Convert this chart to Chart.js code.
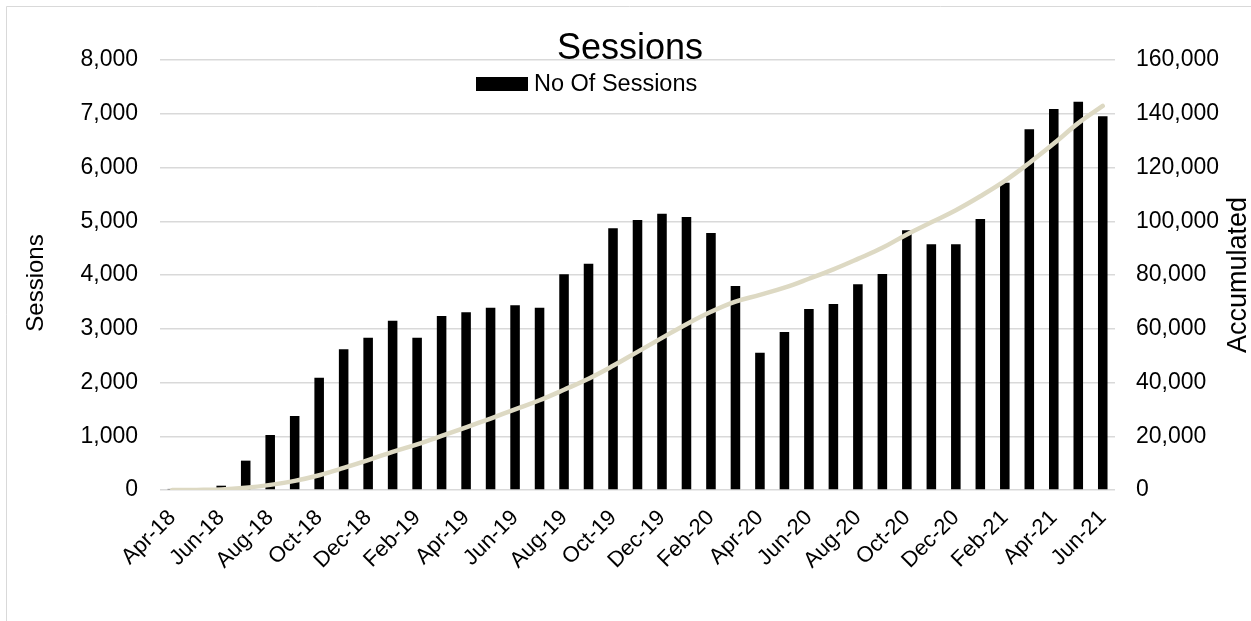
<!DOCTYPE html>
<html>
<head>
<meta charset="utf-8">
<title>Sessions</title>
<script src="https://cdn.jsdelivr.net/npm/chart.js@4.4.1/dist/chart.umd.min.js"></script>
<style>
  html, body { margin: 0; padding: 0; background: #ffffff; }
  #wrap { width: 1251px; height: 621px; }
</style>
</head>
<body>
<div id="wrap"><canvas id="chart" width="1251" height="621"></canvas></div>
<script>
// Monthly categories, April 2018 to June 2021
const months = [
  'Apr-18','May-18','Jun-18','Jul-18','Aug-18','Sep-18','Oct-18','Nov-18','Dec-18',
  'Jan-19','Feb-19','Mar-19','Apr-19','May-19','Jun-19','Jul-19','Aug-19','Sep-19','Oct-19','Nov-19','Dec-19',
  'Jan-20','Feb-20','Mar-20','Apr-20','May-20','Jun-20','Jul-20','Aug-20','Sep-20','Oct-20','Nov-20','Dec-20',
  'Jan-21','Feb-21','Mar-21','Apr-21','May-21','Jun-21'
];

// Sessions per month (left axis)
const sessions = [
  20, 10, 80, 546, 1023, 1377, 2090, 2617, 2834,
  3150, 2834, 3237, 3305, 3392, 3436, 3392, 4012, 4211, 4868, 5023, 5141,
  5079, 4781, 3795, 2555, 2940, 3367, 3460, 3826, 4019, 4831, 4571, 4571,
  5042, 5718, 6710, 7088, 7225, 6952
];

// Running total of sessions (right axis)
const accumulated = [
  20, 40, 150, 800, 1900, 3400, 5500, 8200, 11100,
  14200, 17000, 20100, 23300, 26600, 30000, 33400, 37300, 41400, 46200, 51400, 56600,
  61700, 66300, 70100, 72600, 75300, 78600, 82100, 86000, 90100, 95100, 99600, 104100,
  109300, 115000, 121700, 128900, 136500, 142900
];

const chartTitle = 'Sessions';
const barLabel = 'No Of Sessions';
const lineLabel = 'Accumulated';
const leftAxisTitle = 'Sessions';
const rightAxisTitle = 'Accumulated';

const FONT = '"Liberation Sans", Arial, Helvetica, sans-serif';
const GRID = '#d9d9d9';
const LINE = '#ddd9c3';

const fmt = v => Number(v).toLocaleString('en-US');

// Frame, title, legend and axis titles drawn on the canvas
const decorations = {
  id: 'decorations',
  beforeDraw(chart) {
    const ctx = chart.ctx;
    ctx.save();
    ctx.fillStyle = '#ffffff';
    ctx.fillRect(0, 0, chart.width, chart.height);
    ctx.strokeStyle = GRID;
    ctx.lineWidth = 1;
    ctx.beginPath();
    ctx.moveTo(6.5, chart.height + 5);
    ctx.lineTo(6.5, 6.5);
    ctx.lineTo(chart.width + 5, 6.5);
    ctx.stroke();
    ctx.restore();
  },
  afterDraw(chart) {
    const ctx = chart.ctx;
    const area = chart.chartArea;
    ctx.save();
    ctx.fillStyle = '#000000';

    // chart title
    ctx.font = '36px ' + FONT;
    ctx.textAlign = 'center';
    ctx.textBaseline = 'alphabetic';
    ctx.fillText(chartTitle, 630, 59);

    // legend entry for the bars
    ctx.fillRect(476, 77, 52, 14);
    ctx.font = '23.5px ' + FONT;
    ctx.textAlign = 'left';
    ctx.fillText(barLabel, 534, 91);

    // left axis title
    const midY = (area.top + area.bottom) / 2;
    ctx.save();
    ctx.translate(43, midY + 8);
    ctx.rotate(-Math.PI / 2);
    ctx.font = '24px ' + FONT;
    ctx.textAlign = 'center';
    ctx.fillText(leftAxisTitle, 0, 0);
    ctx.restore();

    // right axis title
    ctx.save();
    ctx.translate(1246, midY);
    ctx.rotate(-Math.PI / 2);
    ctx.font = '27px ' + FONT;
    ctx.textAlign = 'center';
    ctx.fillText(rightAxisTitle, 0, 0);
    ctx.restore();

    ctx.restore();
  }
};

new Chart(document.getElementById('chart'), {
  data: {
    labels: months,
    datasets: [
      {
        type: 'line',
        label: lineLabel,
        data: accumulated,
        yAxisID: 'y1',
        borderColor: LINE,
        backgroundColor: LINE,
        borderWidth: 4.5,
        borderCapStyle: 'round',
        pointRadius: 0,
        tension: 0.4,
        fill: false,
        order: 0
      },
      {
        type: 'bar',
        label: barLabel,
        data: sessions,
        yAxisID: 'y',
        backgroundColor: '#000000',
        borderWidth: 0,
        barPercentage: 0.39,
        categoryPercentage: 1.0,
        order: 1
      }
    ]
  },
  options: {
    responsive: false,
    animation: false,
    layout: { padding: { top: 60, left: 0, right: 0, bottom: 0 } },
    plugins: {
      legend: { display: false },
      title: { display: false },
      tooltip: { enabled: false }
    },
    scales: {
      x: {
        offset: true,
        grid: { display: false, drawTicks: false },
        border: { display: false },
        ticks: {
          autoSkip: false,
          minRotation: 45,
          maxRotation: 45,
          padding: 15,
          color: '#000000',
          font: { family: FONT, size: 22 },
          callback: (v, i) => (i % 2 === 0 ? months[i] : '')
        },
        afterFit: s => { s.height = 131; }
      },
      y: {
        position: 'left',
        min: 0,
        max: 8000,
        grid: { color: GRID, lineWidth: 1.5, drawTicks: false },
        border: { display: false },
        ticks: {
          stepSize: 1000,
          padding: 22,
          color: '#000000',
          font: { family: FONT, size: 23 },
          callback: v => fmt(v)
        },
        afterFit: s => { s.width = 160; }
      },
      y1: {
        position: 'right',
        min: 0,
        max: 160000,
        grid: { display: false, drawTicks: false },
        border: { display: false },
        ticks: {
          stepSize: 20000,
          padding: 21,
          color: '#000000',
          font: { family: FONT, size: 23 },
          callback: v => fmt(v)
        },
        afterFit: s => { s.width = 136; }
      }
    }
  },
  plugins: [decorations]
});
</script>
</body>
</html>
